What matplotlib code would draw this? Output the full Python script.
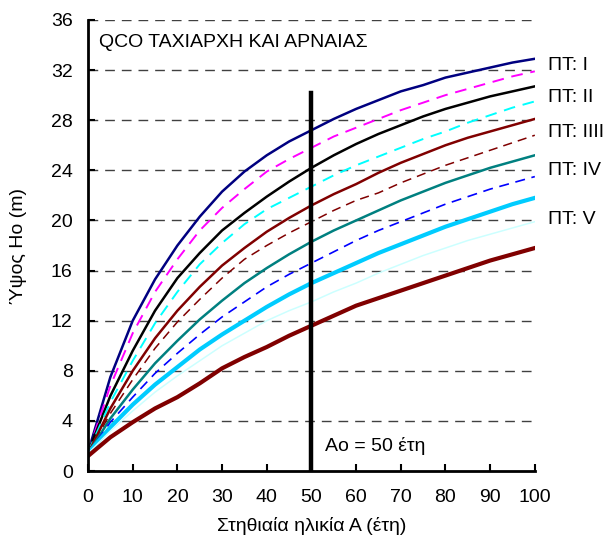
import numpy as np
import matplotlib
matplotlib.use("Agg")
import matplotlib.pyplot as plt

plt.rcParams['font.family'] = ['Liberation Sans', 'DejaVu Sans']

# Ages (years)
age = [0, 5, 10, 15, 20, 25, 30, 35, 40, 45, 50, 55, 60, 65, 70, 75, 80, 85, 90, 95, 100]

# Dominant height curves (m)
pt1 = [1.5, 7.5, 12.0, 15.3, 18.0, 20.3, 22.3, 23.9, 25.2, 26.3, 27.2, 28.1, 28.9, 29.6, 30.3, 30.8, 31.4, 31.8, 32.2, 32.6, 32.9]
pt1_2 = [1.5, 6.8, 11.0, 14.3, 16.9, 19.2, 21.0, 22.5, 23.9, 24.9, 25.8, 26.7, 27.4, 28.1, 28.8, 29.4, 30.0, 30.5, 31.0, 31.5, 31.9]
pt2 = [1.5, 6.0, 9.6, 12.8, 15.4, 17.4, 19.2, 20.6, 21.9, 23.1, 24.2, 25.2, 26.1, 26.9, 27.6, 28.3, 28.9, 29.4, 29.9, 30.3, 30.7]
pt2_3 = [1.5, 5.5, 8.8, 11.8, 14.3, 16.5, 18.2, 19.7, 20.9, 21.8, 22.7, 23.6, 24.4, 25.1, 25.8, 26.5, 27.1, 27.8, 28.4, 29.0, 29.5]
pt3 = [1.4, 5.0, 8.0, 10.6, 12.8, 14.7, 16.4, 17.8, 19.1, 20.2, 21.2, 22.1, 22.9, 23.8, 24.6, 25.3, 26.0, 26.6, 27.1, 27.6, 28.1]
pt3_4 = [1.4, 4.6, 7.3, 9.8, 11.9, 13.7, 15.4, 16.9, 18.0, 19.0, 19.9, 20.8, 21.6, 22.2, 23.0, 23.7, 24.4, 25.0, 25.6, 26.2, 26.8]
pt4 = [1.4, 4.2, 6.5, 8.6, 10.4, 12.1, 13.6, 15.0, 16.2, 17.3, 18.3, 19.2, 20.0, 20.8, 21.6, 22.3, 23.0, 23.6, 24.2, 24.7, 25.2]
pt4_5 = [1.4, 3.9, 5.9, 7.8, 9.4, 10.9, 12.3, 13.5, 14.7, 15.7, 16.6, 17.5, 18.4, 19.2, 19.9, 20.6, 21.3, 21.9, 22.5, 23.0, 23.5]
pt5 = [1.4, 3.5, 5.3, 6.9, 8.3, 9.7, 10.9, 12.0, 13.1, 14.1, 15.0, 15.8, 16.6, 17.4, 18.1, 18.8, 19.5, 20.1, 20.7, 21.3, 21.8]
pt5_6 = [1.4, 3.2, 4.8, 6.3, 7.6, 8.8, 10.0, 11.0, 12.0, 12.8, 13.5, 14.3, 15.0, 15.8, 16.5, 17.2, 17.8, 18.4, 18.9, 19.4, 19.9]
pt6 = [1.2, 2.7, 3.9, 5.0, 5.9, 7.0, 8.2, 9.1, 9.9, 10.8, 11.6, 12.4, 13.2, 13.8, 14.4, 15.0, 15.6, 16.2, 16.8, 17.3, 17.8]

class_labels = ['ΠΤ: I', 'ΠΤ: II', 'ΠΤ: IIII', 'ΠΤ: IV', 'ΠΤ: V']
class_label_y = [32.4, 29.8, 27.0, 24.0, 20.1]

fig = plt.figure(figsize=(6.05, 5.39), dpi=100)
ax = fig.add_axes([0.1455, 0.126, 0.7385, 0.837])

# dashed horizontal grid
for yv in range(4, 37, 4):
    ax.plot([0, 100], [yv, yv], color='#404040', lw=1, dashes=(7, 5), zorder=1)

ax.plot(age, pt1, color='#000080', lw=1.8)
ax.plot(age, pt1_2, color='#FF00FF', lw=1.4, dashes=(6, 4))
ax.plot(age, pt2, color='black', lw=1.8)
ax.plot(age, pt2_3, color='#00FFFF', lw=1.4, dashes=(6, 4))
ax.plot(age, pt3, color='#800000', lw=1.8)
ax.plot(age, pt3_4, color='#800000', lw=1.1, dashes=(6, 4))
ax.plot(age, pt4, color='#008080', lw=1.8)
ax.plot(age, pt4_5, color='#0000FF', lw=1.2, dashes=(6, 4))
ax.plot(age, pt5, color='#00CCFF', lw=3.0)
ax.plot(age, pt5_6, color='#CCFFFF', lw=1.1)
ax.plot(age, pt6, color='#800000', lw=3.0)

# reference age line
ax.plot([50, 50], [0, 30.2], color='black', lw=3.2, zorder=5)
ax.text(53, 2.0, 'Ao = 50 έτη', fontsize=14, va='center')
ax.text(2.5, 34.2, 'QCO ΤΑΧΙΑΡΧΗ ΚΑΙ ΑΡΝΑΙΑΣ', fontsize=14, va='center')

for lab, yv in zip(class_labels, class_label_y):
    ax.text(103, yv, lab, fontsize=14, va='center', clip_on=False)

ax.set_xlim(0, 100)
ax.set_ylim(0, 36)
ax.set_xticks(range(0, 101, 10))
ax.set_yticks(range(0, 37, 4))
ax.tick_params(direction='in', length=5, width=1.5, labelsize=14)
ax.tick_params(axis='x', pad=13)
ax.tick_params(axis='y', pad=11)
for s in ['top', 'right']:
    ax.spines[s].set_visible(False)
for s in ['left', 'bottom']:
    ax.spines[s].set_linewidth(2)
ax.set_xlabel('Στηθιαία ηλικία Α (έτη)', fontsize=14, labelpad=8)
ax.set_ylabel('Ύψος Ho (m)', fontsize=14, labelpad=17)

fig.savefig('out.png', dpi=100)
